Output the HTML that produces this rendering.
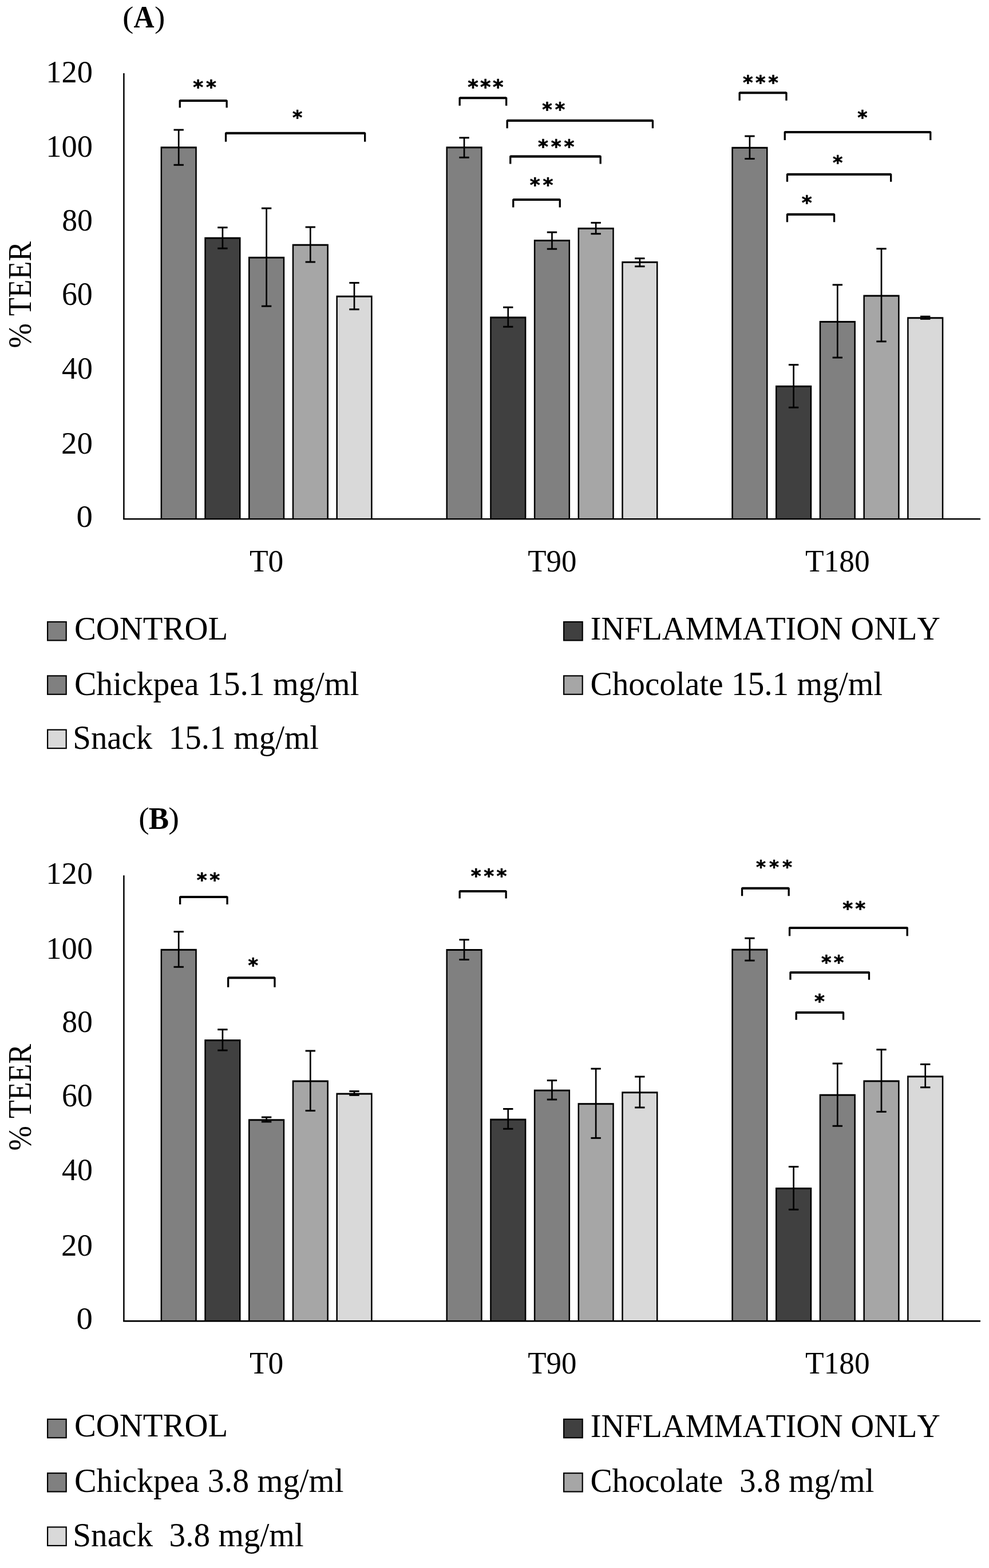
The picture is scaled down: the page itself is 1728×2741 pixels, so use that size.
<!DOCTYPE html>
<html><head><meta charset="utf-8"><title>TEER chart</title>
<style>
html,body{margin:0;padding:0;background:#fff;}
svg{display:block;}
text{font-kerning:none;fill:#000;white-space:pre;}
</style></head><body>
<svg width="1728" height="2741" viewBox="0 0 1728 2741">
<rect x="0" y="0" width="1728" height="2741" fill="#fff"/>
<rect x="280.60" y="256.30" width="63.20" height="650.90" fill="#000"/>
<rect x="283.10" y="259.30" width="58.20" height="647.90" fill="#808080"/>
<rect x="357.30" y="414.70" width="63.20" height="492.50" fill="#000"/>
<rect x="359.80" y="417.70" width="58.20" height="489.50" fill="#404040"/>
<rect x="434.00" y="448.80" width="63.20" height="458.40" fill="#000"/>
<rect x="436.50" y="451.80" width="58.20" height="455.40" fill="#808080"/>
<rect x="510.70" y="426.70" width="63.20" height="480.50" fill="#000"/>
<rect x="513.20" y="429.70" width="58.20" height="477.50" fill="#a6a6a6"/>
<rect x="587.40" y="516.70" width="63.20" height="390.50" fill="#000"/>
<rect x="589.90" y="519.70" width="58.20" height="387.50" fill="#d9d9d9"/>
<rect x="779.45" y="256.30" width="63.20" height="650.90" fill="#000"/>
<rect x="781.95" y="259.30" width="58.20" height="647.90" fill="#808080"/>
<rect x="856.15" y="553.50" width="63.20" height="353.70" fill="#000"/>
<rect x="858.65" y="556.50" width="58.20" height="350.70" fill="#404040"/>
<rect x="932.85" y="419.00" width="63.20" height="488.20" fill="#000"/>
<rect x="935.35" y="422.00" width="58.20" height="485.20" fill="#808080"/>
<rect x="1009.55" y="397.90" width="63.20" height="509.30" fill="#000"/>
<rect x="1012.05" y="400.90" width="58.20" height="506.30" fill="#a6a6a6"/>
<rect x="1086.25" y="456.90" width="63.20" height="450.30" fill="#000"/>
<rect x="1088.75" y="459.90" width="58.20" height="447.30" fill="#d9d9d9"/>
<rect x="1278.30" y="256.80" width="63.20" height="650.40" fill="#000"/>
<rect x="1280.80" y="259.80" width="58.20" height="647.40" fill="#808080"/>
<rect x="1355.00" y="673.90" width="63.20" height="233.30" fill="#000"/>
<rect x="1357.50" y="676.90" width="58.20" height="230.30" fill="#404040"/>
<rect x="1431.70" y="561.00" width="63.20" height="346.20" fill="#000"/>
<rect x="1434.20" y="564.00" width="58.20" height="343.20" fill="#808080"/>
<rect x="1508.40" y="515.60" width="63.20" height="391.60" fill="#000"/>
<rect x="1510.90" y="518.60" width="58.20" height="388.60" fill="#a6a6a6"/>
<rect x="1585.10" y="554.30" width="63.20" height="352.90" fill="#000"/>
<rect x="1587.60" y="557.30" width="58.20" height="349.90" fill="#d9d9d9"/>
<line x1="312.20" y1="227.00" x2="312.20" y2="288.30" stroke="#000" stroke-width="2.7"/>
<line x1="303.50" y1="227.00" x2="320.90" y2="227.00" stroke="#000" stroke-width="3.0"/>
<line x1="303.50" y1="288.30" x2="320.90" y2="288.30" stroke="#000" stroke-width="3.0"/>
<line x1="388.90" y1="397.70" x2="388.90" y2="434.20" stroke="#000" stroke-width="2.7"/>
<line x1="380.20" y1="397.70" x2="397.60" y2="397.70" stroke="#000" stroke-width="3.0"/>
<line x1="380.20" y1="434.20" x2="397.60" y2="434.20" stroke="#000" stroke-width="3.0"/>
<line x1="465.60" y1="364.10" x2="465.60" y2="535.20" stroke="#000" stroke-width="2.7"/>
<line x1="456.90" y1="364.10" x2="474.30" y2="364.10" stroke="#000" stroke-width="3.0"/>
<line x1="456.90" y1="535.20" x2="474.30" y2="535.20" stroke="#000" stroke-width="3.0"/>
<line x1="542.30" y1="397.00" x2="542.30" y2="458.00" stroke="#000" stroke-width="2.7"/>
<line x1="533.60" y1="397.00" x2="551.00" y2="397.00" stroke="#000" stroke-width="3.0"/>
<line x1="533.60" y1="458.00" x2="551.00" y2="458.00" stroke="#000" stroke-width="3.0"/>
<line x1="619.00" y1="494.40" x2="619.00" y2="540.80" stroke="#000" stroke-width="2.7"/>
<line x1="610.30" y1="494.40" x2="627.70" y2="494.40" stroke="#000" stroke-width="3.0"/>
<line x1="610.30" y1="540.80" x2="627.70" y2="540.80" stroke="#000" stroke-width="3.0"/>
<line x1="811.05" y1="240.80" x2="811.05" y2="275.30" stroke="#000" stroke-width="2.7"/>
<line x1="802.35" y1="240.80" x2="819.75" y2="240.80" stroke="#000" stroke-width="3.0"/>
<line x1="802.35" y1="275.30" x2="819.75" y2="275.30" stroke="#000" stroke-width="3.0"/>
<line x1="887.75" y1="537.20" x2="887.75" y2="571.20" stroke="#000" stroke-width="2.7"/>
<line x1="879.05" y1="537.20" x2="896.45" y2="537.20" stroke="#000" stroke-width="3.0"/>
<line x1="879.05" y1="571.20" x2="896.45" y2="571.20" stroke="#000" stroke-width="3.0"/>
<line x1="964.45" y1="406.00" x2="964.45" y2="435.20" stroke="#000" stroke-width="2.7"/>
<line x1="955.75" y1="406.00" x2="973.15" y2="406.00" stroke="#000" stroke-width="3.0"/>
<line x1="955.75" y1="435.20" x2="973.15" y2="435.20" stroke="#000" stroke-width="3.0"/>
<line x1="1041.15" y1="389.40" x2="1041.15" y2="408.70" stroke="#000" stroke-width="2.7"/>
<line x1="1032.45" y1="389.40" x2="1049.85" y2="389.40" stroke="#000" stroke-width="3.0"/>
<line x1="1032.45" y1="408.70" x2="1049.85" y2="408.70" stroke="#000" stroke-width="3.0"/>
<line x1="1117.85" y1="451.70" x2="1117.85" y2="465.70" stroke="#000" stroke-width="2.7"/>
<line x1="1109.15" y1="451.70" x2="1126.55" y2="451.70" stroke="#000" stroke-width="3.0"/>
<line x1="1109.15" y1="465.70" x2="1126.55" y2="465.70" stroke="#000" stroke-width="3.0"/>
<line x1="1309.90" y1="238.00" x2="1309.90" y2="277.50" stroke="#000" stroke-width="2.7"/>
<line x1="1301.20" y1="238.00" x2="1318.60" y2="238.00" stroke="#000" stroke-width="3.0"/>
<line x1="1301.20" y1="277.50" x2="1318.60" y2="277.50" stroke="#000" stroke-width="3.0"/>
<line x1="1386.60" y1="637.70" x2="1386.60" y2="712.30" stroke="#000" stroke-width="2.7"/>
<line x1="1377.90" y1="637.70" x2="1395.30" y2="637.70" stroke="#000" stroke-width="3.0"/>
<line x1="1377.90" y1="712.30" x2="1395.30" y2="712.30" stroke="#000" stroke-width="3.0"/>
<line x1="1463.30" y1="497.90" x2="1463.30" y2="625.10" stroke="#000" stroke-width="2.7"/>
<line x1="1454.60" y1="497.90" x2="1472.00" y2="497.90" stroke="#000" stroke-width="3.0"/>
<line x1="1454.60" y1="625.10" x2="1472.00" y2="625.10" stroke="#000" stroke-width="3.0"/>
<line x1="1540.00" y1="434.80" x2="1540.00" y2="596.90" stroke="#000" stroke-width="2.7"/>
<line x1="1531.30" y1="434.80" x2="1548.70" y2="434.80" stroke="#000" stroke-width="3.0"/>
<line x1="1531.30" y1="596.90" x2="1548.70" y2="596.90" stroke="#000" stroke-width="3.0"/>
<line x1="1616.70" y1="553.30" x2="1616.70" y2="557.40" stroke="#000" stroke-width="2.7"/>
<line x1="1608.00" y1="553.30" x2="1625.40" y2="553.30" stroke="#000" stroke-width="3.0"/>
<line x1="1608.00" y1="557.40" x2="1625.40" y2="557.40" stroke="#000" stroke-width="3.0"/>
<line x1="216.4" y1="128.00" x2="216.4" y2="907.20" stroke="#000" stroke-width="2.5"/>
<line x1="215.15" y1="907.20" x2="1713" y2="907.20" stroke="#000" stroke-width="2.6"/>
<path d="M314.25,188.20 V176.10 H396.15 V188.20" fill="none" stroke="#000" stroke-width="3.3" stroke-linejoin="round"/>
<line x1="314.25" y1="176.10" x2="396.15" y2="176.10" stroke="#000" stroke-width="4.0"/>
<text x="337.16 360.03" y="163.76" font-size="34.24" font-family='"DejaVu Sans", "Liberation Sans", sans-serif' font-weight="bold" stroke="#000" stroke-width="0.7" stroke-linejoin="round">**</text>
<path d="M394.55,247.70 V232.80 H637.65 V247.70" fill="none" stroke="#000" stroke-width="3.3" stroke-linejoin="round"/>
<line x1="394.55" y1="232.80" x2="637.65" y2="232.80" stroke="#000" stroke-width="4.0"/>
<text x="510.89" y="217.30" font-size="32.95" font-family='"DejaVu Sans", "Liberation Sans", sans-serif' font-weight="bold" stroke="#000" stroke-width="0.7" stroke-linejoin="round">*</text>
<path d="M803.15,184.70 V171.30 H884.65 V184.70" fill="none" stroke="#000" stroke-width="3.3" stroke-linejoin="round"/>
<line x1="803.15" y1="171.30" x2="884.65" y2="171.30" stroke="#000" stroke-width="4.0"/>
<text x="817.24 839.07 860.89" y="164.26" font-size="35.32" font-family='"DejaVu Sans", "Liberation Sans", sans-serif' font-weight="bold" stroke="#000" stroke-width="0.7" stroke-linejoin="round">***</text>
<path d="M886.15,224.20 V210.80 H1140.45 V224.20" fill="none" stroke="#000" stroke-width="3.3" stroke-linejoin="round"/>
<line x1="886.15" y1="210.80" x2="1140.45" y2="210.80" stroke="#000" stroke-width="4.0"/>
<text x="947.28 969.76" y="203.12" font-size="33.38" font-family='"DejaVu Sans", "Liberation Sans", sans-serif' font-weight="bold" stroke="#000" stroke-width="0.7" stroke-linejoin="round">**</text>
<path d="M891.75,286.40 V273.50 H1049.15 V286.40" fill="none" stroke="#000" stroke-width="3.3" stroke-linejoin="round"/>
<line x1="891.75" y1="273.50" x2="1049.15" y2="273.50" stroke="#000" stroke-width="4.0"/>
<text x="940.06 962.75 985.43" y="268.36" font-size="34.24" font-family='"DejaVu Sans", "Liberation Sans", sans-serif' font-weight="bold" stroke="#000" stroke-width="0.7" stroke-linejoin="round">***</text>
<path d="M896.75,362.50 V349.10 H978.25 V362.50" fill="none" stroke="#000" stroke-width="3.3" stroke-linejoin="round"/>
<line x1="896.75" y1="349.10" x2="978.25" y2="349.10" stroke="#000" stroke-width="4.0"/>
<text x="925.66 948.53" y="334.76" font-size="34.24" font-family='"DejaVu Sans", "Liberation Sans", sans-serif' font-weight="bold" stroke="#000" stroke-width="0.7" stroke-linejoin="round">**</text>
<path d="M1292.15,175.70 V162.30 H1373.95 V175.70" fill="none" stroke="#000" stroke-width="3.3" stroke-linejoin="round"/>
<line x1="1292.15" y1="162.30" x2="1373.95" y2="162.30" stroke="#000" stroke-width="4.0"/>
<text x="1297.88 1320.12 1342.35" y="155.78" font-size="33.59" font-family='"DejaVu Sans", "Liberation Sans", sans-serif' font-weight="bold" stroke="#000" stroke-width="0.7" stroke-linejoin="round">***</text>
<path d="M1371.25,244.90 V230.90 H1625.75 V244.90" fill="none" stroke="#000" stroke-width="3.3" stroke-linejoin="round"/>
<line x1="1371.25" y1="230.90" x2="1625.75" y2="230.90" stroke="#000" stroke-width="4.0"/>
<text x="1498.19" y="216.80" font-size="32.95" font-family='"DejaVu Sans", "Liberation Sans", sans-serif' font-weight="bold" stroke="#000" stroke-width="0.7" stroke-linejoin="round">*</text>
<path d="M1375.45,317.70 V304.80 H1556.65 V317.70" fill="none" stroke="#000" stroke-width="3.3" stroke-linejoin="round"/>
<line x1="1375.45" y1="304.80" x2="1556.65" y2="304.80" stroke="#000" stroke-width="4.0"/>
<text x="1454.99" y="295.76" font-size="33.16" font-family='"DejaVu Sans", "Liberation Sans", sans-serif' font-weight="bold" stroke="#000" stroke-width="0.7" stroke-linejoin="round">*</text>
<path d="M1375.45,388.20 V374.80 H1457.55 V388.20" fill="none" stroke="#000" stroke-width="3.3" stroke-linejoin="round"/>
<line x1="1375.45" y1="374.80" x2="1457.55" y2="374.80" stroke="#000" stroke-width="4.0"/>
<text x="1400.76" y="365.76" font-size="34.24" font-family='"DejaVu Sans", "Liberation Sans", sans-serif' font-weight="bold" stroke="#000" stroke-width="0.7" stroke-linejoin="round">*</text>
<text font-family='"Liberation Serif", serif'><tspan x="213.93" y="47.68" font-size="52.72" textLength="19.45" lengthAdjust="spacingAndGlyphs" font-weight="normal">(</tspan><tspan x="233.41" y="47.70" font-size="55.44" textLength="36.05" lengthAdjust="spacingAndGlyphs" font-weight="bold">A</tspan><tspan x="270.02" y="47.68" font-size="52.72" textLength="18.41" lengthAdjust="spacingAndGlyphs" font-weight="normal">)</tspan></text>
<text x="80.22" y="143.67" font-size="54.09" textLength="81.66" lengthAdjust="spacingAndGlyphs" font-family='"Liberation Serif", serif' font-weight="normal" xml:space="preserve">120</text>
<text x="80.22" y="274.16" font-size="55.72" textLength="81.66" lengthAdjust="spacingAndGlyphs" font-family='"Liberation Serif", serif' font-weight="normal" xml:space="preserve">100</text>
<text x="108.16" y="402.67" font-size="54.24" textLength="53.69" lengthAdjust="spacingAndGlyphs" font-family='"Liberation Serif", serif' font-weight="normal" xml:space="preserve">80</text>
<text x="107.88" y="532.75" font-size="56.02" textLength="53.97" lengthAdjust="spacingAndGlyphs" font-family='"Liberation Serif", serif' font-weight="normal" xml:space="preserve">60</text>
<text x="108.05" y="661.67" font-size="54.24" textLength="53.80" lengthAdjust="spacingAndGlyphs" font-family='"Liberation Serif", serif' font-weight="normal" xml:space="preserve">40</text>
<text x="106.99" y="792.96" font-size="55.42" textLength="54.90" lengthAdjust="spacingAndGlyphs" font-family='"Liberation Serif", serif' font-weight="normal" xml:space="preserve">20</text>
<text x="133.53" y="921.46" font-size="55.57" textLength="28.43" lengthAdjust="spacingAndGlyphs" font-family='"Liberation Serif", serif' font-weight="normal" xml:space="preserve">0</text>
<text transform="rotate(-90)" x="-608.58" y="53.86" font-size="56.32" textLength="186.56" lengthAdjust="spacingAndGlyphs" font-family='"Liberation Serif", serif' font-weight="normal">% TEER</text>
<text x="435.93" y="999.27" font-size="54.24" textLength="59.40" lengthAdjust="spacingAndGlyphs" font-family='"Liberation Serif", serif' font-weight="normal" xml:space="preserve">T0</text>
<text x="922.24" y="999.27" font-size="54.24" textLength="85.17" lengthAdjust="spacingAndGlyphs" font-family='"Liberation Serif", serif' font-weight="normal" xml:space="preserve">T90</text>
<text x="1407.04" y="999.27" font-size="54.24" textLength="112.60" lengthAdjust="spacingAndGlyphs" font-family='"Liberation Serif", serif' font-weight="normal" xml:space="preserve">T180</text>
<rect x="83.10" y="1087.10" width="32.6" height="32.4" fill="#808080" stroke="#000" stroke-width="2.2"/>
<rect x="985.10" y="1087.10" width="32.6" height="32.4" fill="#404040" stroke="#000" stroke-width="2.2"/>
<rect x="83.10" y="1181.40" width="32.6" height="32.4" fill="#808080" stroke="#000" stroke-width="2.2"/>
<rect x="985.10" y="1181.40" width="32.6" height="32.4" fill="#a6a6a6" stroke="#000" stroke-width="2.2"/>
<rect x="83.10" y="1275.70" width="32.6" height="32.4" fill="#d9d9d9" stroke="#000" stroke-width="2.2"/>
<text x="129.97" y="1117.65" font-size="56.71" textLength="268.14" lengthAdjust="spacingAndGlyphs" font-family='"Liberation Serif", serif' font-weight="normal" xml:space="preserve">CONTROL</text>
<text x="1031.77" y="1118.44" font-size="57.15" textLength="611.16" lengthAdjust="spacingAndGlyphs" font-family='"Liberation Serif", serif' font-weight="normal" xml:space="preserve">INFLAMMATION ONLY</text>
<text x="129.94" y="1214.53" font-size="58.70" textLength="497.52" lengthAdjust="spacingAndGlyphs" font-family='"Liberation Serif", serif' font-weight="normal" xml:space="preserve">Chickpea 15.1 mg/ml</text>
<text x="1031.45" y="1214.53" font-size="58.70" textLength="510.70" lengthAdjust="spacingAndGlyphs" font-family='"Liberation Serif", serif' font-weight="normal" xml:space="preserve">Chocolate 15.1 mg/ml</text>
<text x="127.29" y="1308.90" font-size="58.37" textLength="429.84" lengthAdjust="spacingAndGlyphs" font-family='"Liberation Serif", serif' font-weight="normal" xml:space="preserve">Snack  15.1 mg/ml</text>
<rect x="280.60" y="1658.80" width="63.20" height="650.60" fill="#000"/>
<rect x="283.10" y="1661.80" width="58.20" height="647.60" fill="#808080"/>
<rect x="357.30" y="1817.10" width="63.20" height="492.30" fill="#000"/>
<rect x="359.80" y="1820.10" width="58.20" height="489.30" fill="#404040"/>
<rect x="434.00" y="1956.30" width="63.20" height="353.10" fill="#000"/>
<rect x="436.50" y="1959.30" width="58.20" height="350.10" fill="#808080"/>
<rect x="510.70" y="1888.50" width="63.20" height="420.90" fill="#000"/>
<rect x="513.20" y="1891.50" width="58.20" height="417.90" fill="#a6a6a6"/>
<rect x="587.40" y="1910.60" width="63.20" height="398.80" fill="#000"/>
<rect x="589.90" y="1913.60" width="58.20" height="395.80" fill="#d9d9d9"/>
<rect x="779.45" y="1659.00" width="63.20" height="650.40" fill="#000"/>
<rect x="781.95" y="1662.00" width="58.20" height="647.40" fill="#808080"/>
<rect x="856.15" y="1955.60" width="63.20" height="353.80" fill="#000"/>
<rect x="858.65" y="1958.60" width="58.20" height="350.80" fill="#404040"/>
<rect x="932.85" y="1904.70" width="63.20" height="404.70" fill="#000"/>
<rect x="935.35" y="1907.70" width="58.20" height="401.70" fill="#808080"/>
<rect x="1009.55" y="1928.20" width="63.20" height="381.20" fill="#000"/>
<rect x="1012.05" y="1931.20" width="58.20" height="378.20" fill="#a6a6a6"/>
<rect x="1086.25" y="1908.30" width="63.20" height="401.10" fill="#000"/>
<rect x="1088.75" y="1911.30" width="58.20" height="398.10" fill="#d9d9d9"/>
<rect x="1278.30" y="1658.60" width="63.20" height="650.80" fill="#000"/>
<rect x="1280.80" y="1661.60" width="58.20" height="647.80" fill="#808080"/>
<rect x="1355.00" y="2076.00" width="63.20" height="233.40" fill="#000"/>
<rect x="1357.50" y="2079.00" width="58.20" height="230.40" fill="#404040"/>
<rect x="1431.70" y="1912.70" width="63.20" height="396.70" fill="#000"/>
<rect x="1434.20" y="1915.70" width="58.20" height="393.70" fill="#808080"/>
<rect x="1508.40" y="1888.40" width="63.20" height="421.00" fill="#000"/>
<rect x="1510.90" y="1891.40" width="58.20" height="418.00" fill="#a6a6a6"/>
<rect x="1585.10" y="1880.40" width="63.20" height="429.00" fill="#000"/>
<rect x="1587.60" y="1883.40" width="58.20" height="426.00" fill="#d9d9d9"/>
<line x1="312.20" y1="1628.70" x2="312.20" y2="1690.30" stroke="#000" stroke-width="2.7"/>
<line x1="303.50" y1="1628.70" x2="320.90" y2="1628.70" stroke="#000" stroke-width="3.0"/>
<line x1="303.50" y1="1690.30" x2="320.90" y2="1690.30" stroke="#000" stroke-width="3.0"/>
<line x1="388.90" y1="1799.70" x2="388.90" y2="1836.10" stroke="#000" stroke-width="2.7"/>
<line x1="380.20" y1="1799.70" x2="397.60" y2="1799.70" stroke="#000" stroke-width="3.0"/>
<line x1="380.20" y1="1836.10" x2="397.60" y2="1836.10" stroke="#000" stroke-width="3.0"/>
<line x1="465.60" y1="1953.00" x2="465.60" y2="1960.90" stroke="#000" stroke-width="2.7"/>
<line x1="456.90" y1="1953.00" x2="474.30" y2="1953.00" stroke="#000" stroke-width="3.0"/>
<line x1="456.90" y1="1960.90" x2="474.30" y2="1960.90" stroke="#000" stroke-width="3.0"/>
<line x1="542.30" y1="1837.00" x2="542.30" y2="1941.60" stroke="#000" stroke-width="2.7"/>
<line x1="533.60" y1="1837.00" x2="551.00" y2="1837.00" stroke="#000" stroke-width="3.0"/>
<line x1="533.60" y1="1941.60" x2="551.00" y2="1941.60" stroke="#000" stroke-width="3.0"/>
<line x1="619.00" y1="1907.60" x2="619.00" y2="1914.40" stroke="#000" stroke-width="2.7"/>
<line x1="610.30" y1="1907.60" x2="627.70" y2="1907.60" stroke="#000" stroke-width="3.0"/>
<line x1="610.30" y1="1914.40" x2="627.70" y2="1914.40" stroke="#000" stroke-width="3.0"/>
<line x1="811.05" y1="1642.70" x2="811.05" y2="1677.50" stroke="#000" stroke-width="2.7"/>
<line x1="802.35" y1="1642.70" x2="819.75" y2="1642.70" stroke="#000" stroke-width="3.0"/>
<line x1="802.35" y1="1677.50" x2="819.75" y2="1677.50" stroke="#000" stroke-width="3.0"/>
<line x1="887.75" y1="1938.50" x2="887.75" y2="1973.30" stroke="#000" stroke-width="2.7"/>
<line x1="879.05" y1="1938.50" x2="896.45" y2="1938.50" stroke="#000" stroke-width="3.0"/>
<line x1="879.05" y1="1973.30" x2="896.45" y2="1973.30" stroke="#000" stroke-width="3.0"/>
<line x1="964.45" y1="1888.70" x2="964.45" y2="1922.10" stroke="#000" stroke-width="2.7"/>
<line x1="955.75" y1="1888.70" x2="973.15" y2="1888.70" stroke="#000" stroke-width="3.0"/>
<line x1="955.75" y1="1922.10" x2="973.15" y2="1922.10" stroke="#000" stroke-width="3.0"/>
<line x1="1041.15" y1="1868.20" x2="1041.15" y2="1989.40" stroke="#000" stroke-width="2.7"/>
<line x1="1032.45" y1="1868.20" x2="1049.85" y2="1868.20" stroke="#000" stroke-width="3.0"/>
<line x1="1032.45" y1="1989.40" x2="1049.85" y2="1989.40" stroke="#000" stroke-width="3.0"/>
<line x1="1117.85" y1="1882.10" x2="1117.85" y2="1936.00" stroke="#000" stroke-width="2.7"/>
<line x1="1109.15" y1="1882.10" x2="1126.55" y2="1882.10" stroke="#000" stroke-width="3.0"/>
<line x1="1109.15" y1="1936.00" x2="1126.55" y2="1936.00" stroke="#000" stroke-width="3.0"/>
<line x1="1309.90" y1="1640.10" x2="1309.90" y2="1679.10" stroke="#000" stroke-width="2.7"/>
<line x1="1301.20" y1="1640.10" x2="1318.60" y2="1640.10" stroke="#000" stroke-width="3.0"/>
<line x1="1301.20" y1="1679.10" x2="1318.60" y2="1679.10" stroke="#000" stroke-width="3.0"/>
<line x1="1386.60" y1="2039.50" x2="1386.60" y2="2114.40" stroke="#000" stroke-width="2.7"/>
<line x1="1377.90" y1="2039.50" x2="1395.30" y2="2039.50" stroke="#000" stroke-width="3.0"/>
<line x1="1377.90" y1="2114.40" x2="1395.30" y2="2114.40" stroke="#000" stroke-width="3.0"/>
<line x1="1463.30" y1="1859.10" x2="1463.30" y2="1968.30" stroke="#000" stroke-width="2.7"/>
<line x1="1454.60" y1="1859.10" x2="1472.00" y2="1859.10" stroke="#000" stroke-width="3.0"/>
<line x1="1454.60" y1="1968.30" x2="1472.00" y2="1968.30" stroke="#000" stroke-width="3.0"/>
<line x1="1540.00" y1="1834.80" x2="1540.00" y2="1943.40" stroke="#000" stroke-width="2.7"/>
<line x1="1531.30" y1="1834.80" x2="1548.70" y2="1834.80" stroke="#000" stroke-width="3.0"/>
<line x1="1531.30" y1="1943.40" x2="1548.70" y2="1943.40" stroke="#000" stroke-width="3.0"/>
<line x1="1616.70" y1="1860.50" x2="1616.70" y2="1900.80" stroke="#000" stroke-width="2.7"/>
<line x1="1608.00" y1="1860.50" x2="1625.40" y2="1860.50" stroke="#000" stroke-width="3.0"/>
<line x1="1608.00" y1="1900.80" x2="1625.40" y2="1900.80" stroke="#000" stroke-width="3.0"/>
<line x1="216.4" y1="1530.20" x2="216.4" y2="2309.40" stroke="#000" stroke-width="2.5"/>
<line x1="215.15" y1="2309.40" x2="1713" y2="2309.40" stroke="#000" stroke-width="2.6"/>
<path d="M314.65,1581.00 V1568.10 H397.05 V1581.00" fill="none" stroke="#000" stroke-width="3.3" stroke-linejoin="round"/>
<line x1="314.65" y1="1568.10" x2="397.05" y2="1568.10" stroke="#000" stroke-width="4.0"/>
<text x="343.66 366.23" y="1549.66" font-size="34.24" font-family='"DejaVu Sans", "Liberation Sans", sans-serif' font-weight="bold" stroke="#000" stroke-width="0.7" stroke-linejoin="round">**</text>
<path d="M398.65,1725.70 V1709.30 H479.95 V1725.70" fill="none" stroke="#000" stroke-width="3.3" stroke-linejoin="round"/>
<line x1="398.65" y1="1709.30" x2="479.95" y2="1709.30" stroke="#000" stroke-width="4.0"/>
<text x="433.48" y="1699.48" font-size="33.59" font-family='"DejaVu Sans", "Liberation Sans", sans-serif' font-weight="bold" stroke="#000" stroke-width="0.7" stroke-linejoin="round">*</text>
<path d="M803.15,1570.40 V1558.10 H884.15 V1570.40" fill="none" stroke="#000" stroke-width="3.3" stroke-linejoin="round"/>
<line x1="803.15" y1="1558.10" x2="884.15" y2="1558.10" stroke="#000" stroke-width="4.0"/>
<text x="822.76 845.15 867.53" y="1542.96" font-size="34.24" font-family='"DejaVu Sans", "Liberation Sans", sans-serif' font-weight="bold" stroke="#000" stroke-width="0.7" stroke-linejoin="round">***</text>
<path d="M1296.55,1566.20 V1552.80 H1378.15 V1566.20" fill="none" stroke="#000" stroke-width="3.3" stroke-linejoin="round"/>
<line x1="1296.55" y1="1552.80" x2="1378.15" y2="1552.80" stroke="#000" stroke-width="4.0"/>
<text x="1321.10 1344.05 1367.00" y="1526.08" font-size="32.52" font-family='"DejaVu Sans", "Liberation Sans", sans-serif' font-weight="bold" stroke="#000" stroke-width="0.7" stroke-linejoin="round">***</text>
<path d="M1379.55,1636.20 V1621.90 H1585.15 V1636.20" fill="none" stroke="#000" stroke-width="3.3" stroke-linejoin="round"/>
<line x1="1379.55" y1="1621.90" x2="1585.15" y2="1621.90" stroke="#000" stroke-width="4.0"/>
<text x="1472.16 1494.23" y="1599.86" font-size="34.24" font-family='"DejaVu Sans", "Liberation Sans", sans-serif' font-weight="bold" stroke="#000" stroke-width="0.7" stroke-linejoin="round">**</text>
<path d="M1380.95,1712.80 V1699.90 H1518.45 V1712.80" fill="none" stroke="#000" stroke-width="3.3" stroke-linejoin="round"/>
<line x1="1380.95" y1="1699.90" x2="1518.45" y2="1699.90" stroke="#000" stroke-width="4.0"/>
<text x="1434.88 1456.65" y="1694.28" font-size="33.59" font-family='"DejaVu Sans", "Liberation Sans", sans-serif' font-weight="bold" stroke="#000" stroke-width="0.7" stroke-linejoin="round">**</text>
<path d="M1391.15,1782.80 V1770.00 H1473.55 V1782.80" fill="none" stroke="#000" stroke-width="3.3" stroke-linejoin="round"/>
<line x1="1391.15" y1="1770.00" x2="1473.55" y2="1770.00" stroke="#000" stroke-width="4.0"/>
<text x="1422.96" y="1761.76" font-size="34.24" font-family='"DejaVu Sans", "Liberation Sans", sans-serif' font-weight="bold" stroke="#000" stroke-width="0.7" stroke-linejoin="round">*</text>
<text font-family='"Liberation Serif", serif'><tspan x="242.37" y="1448.40" font-size="52.61" textLength="18.41" lengthAdjust="spacingAndGlyphs" font-weight="normal">(</tspan><tspan x="259.72" y="1448.54" font-size="55.50" textLength="35.36" lengthAdjust="spacingAndGlyphs" font-weight="bold">B</tspan><tspan x="294.38" y="1448.40" font-size="52.61" textLength="18.80" lengthAdjust="spacingAndGlyphs" font-weight="normal">)</tspan></text>
<text x="80.22" y="1545.37" font-size="54.09" textLength="81.66" lengthAdjust="spacingAndGlyphs" font-family='"Liberation Serif", serif' font-weight="normal" xml:space="preserve">120</text>
<text x="80.22" y="1675.86" font-size="55.72" textLength="81.66" lengthAdjust="spacingAndGlyphs" font-family='"Liberation Serif", serif' font-weight="normal" xml:space="preserve">100</text>
<text x="108.16" y="1804.37" font-size="54.24" textLength="53.69" lengthAdjust="spacingAndGlyphs" font-family='"Liberation Serif", serif' font-weight="normal" xml:space="preserve">80</text>
<text x="107.88" y="1934.45" font-size="56.02" textLength="53.97" lengthAdjust="spacingAndGlyphs" font-family='"Liberation Serif", serif' font-weight="normal" xml:space="preserve">60</text>
<text x="108.05" y="2063.37" font-size="54.24" textLength="53.80" lengthAdjust="spacingAndGlyphs" font-family='"Liberation Serif", serif' font-weight="normal" xml:space="preserve">40</text>
<text x="106.99" y="2194.66" font-size="55.42" textLength="54.90" lengthAdjust="spacingAndGlyphs" font-family='"Liberation Serif", serif' font-weight="normal" xml:space="preserve">20</text>
<text x="133.53" y="2323.16" font-size="55.57" textLength="28.43" lengthAdjust="spacingAndGlyphs" font-family='"Liberation Serif", serif' font-weight="normal" xml:space="preserve">0</text>
<text transform="rotate(-90)" x="-2011.48" y="53.86" font-size="56.32" textLength="186.56" lengthAdjust="spacingAndGlyphs" font-family='"Liberation Serif", serif' font-weight="normal">% TEER</text>
<text x="435.93" y="2400.97" font-size="54.24" textLength="59.40" lengthAdjust="spacingAndGlyphs" font-family='"Liberation Serif", serif' font-weight="normal" xml:space="preserve">T0</text>
<text x="922.24" y="2400.97" font-size="54.24" textLength="85.17" lengthAdjust="spacingAndGlyphs" font-family='"Liberation Serif", serif' font-weight="normal" xml:space="preserve">T90</text>
<text x="1407.04" y="2400.97" font-size="54.24" textLength="112.60" lengthAdjust="spacingAndGlyphs" font-family='"Liberation Serif", serif' font-weight="normal" xml:space="preserve">T180</text>
<rect x="83.10" y="2480.90" width="32.6" height="32.4" fill="#808080" stroke="#000" stroke-width="2.2"/>
<rect x="985.10" y="2480.90" width="32.6" height="32.4" fill="#404040" stroke="#000" stroke-width="2.2"/>
<rect x="83.10" y="2575.20" width="32.6" height="32.4" fill="#808080" stroke="#000" stroke-width="2.2"/>
<rect x="985.10" y="2575.20" width="32.6" height="32.4" fill="#a6a6a6" stroke="#000" stroke-width="2.2"/>
<rect x="83.10" y="2669.50" width="32.6" height="32.4" fill="#d9d9d9" stroke="#000" stroke-width="2.2"/>
<text x="129.97" y="2511.45" font-size="56.71" textLength="268.14" lengthAdjust="spacingAndGlyphs" font-family='"Liberation Serif", serif' font-weight="normal" xml:space="preserve">CONTROL</text>
<text x="1031.77" y="2512.24" font-size="57.15" textLength="611.16" lengthAdjust="spacingAndGlyphs" font-family='"Liberation Serif", serif' font-weight="normal" xml:space="preserve">INFLAMMATION ONLY</text>
<text x="129.93" y="2608.33" font-size="58.70" textLength="470.73" lengthAdjust="spacingAndGlyphs" font-family='"Liberation Serif", serif' font-weight="normal" xml:space="preserve">Chickpea 3.8 mg/ml</text>
<text x="1031.45" y="2608.33" font-size="58.70" textLength="495.99" lengthAdjust="spacingAndGlyphs" font-family='"Liberation Serif", serif' font-weight="normal" xml:space="preserve">Chocolate  3.8 mg/ml</text>
<text x="127.27" y="2702.70" font-size="58.37" textLength="403.47" lengthAdjust="spacingAndGlyphs" font-family='"Liberation Serif", serif' font-weight="normal" xml:space="preserve">Snack  3.8 mg/ml</text>
</svg>
</body></html>
